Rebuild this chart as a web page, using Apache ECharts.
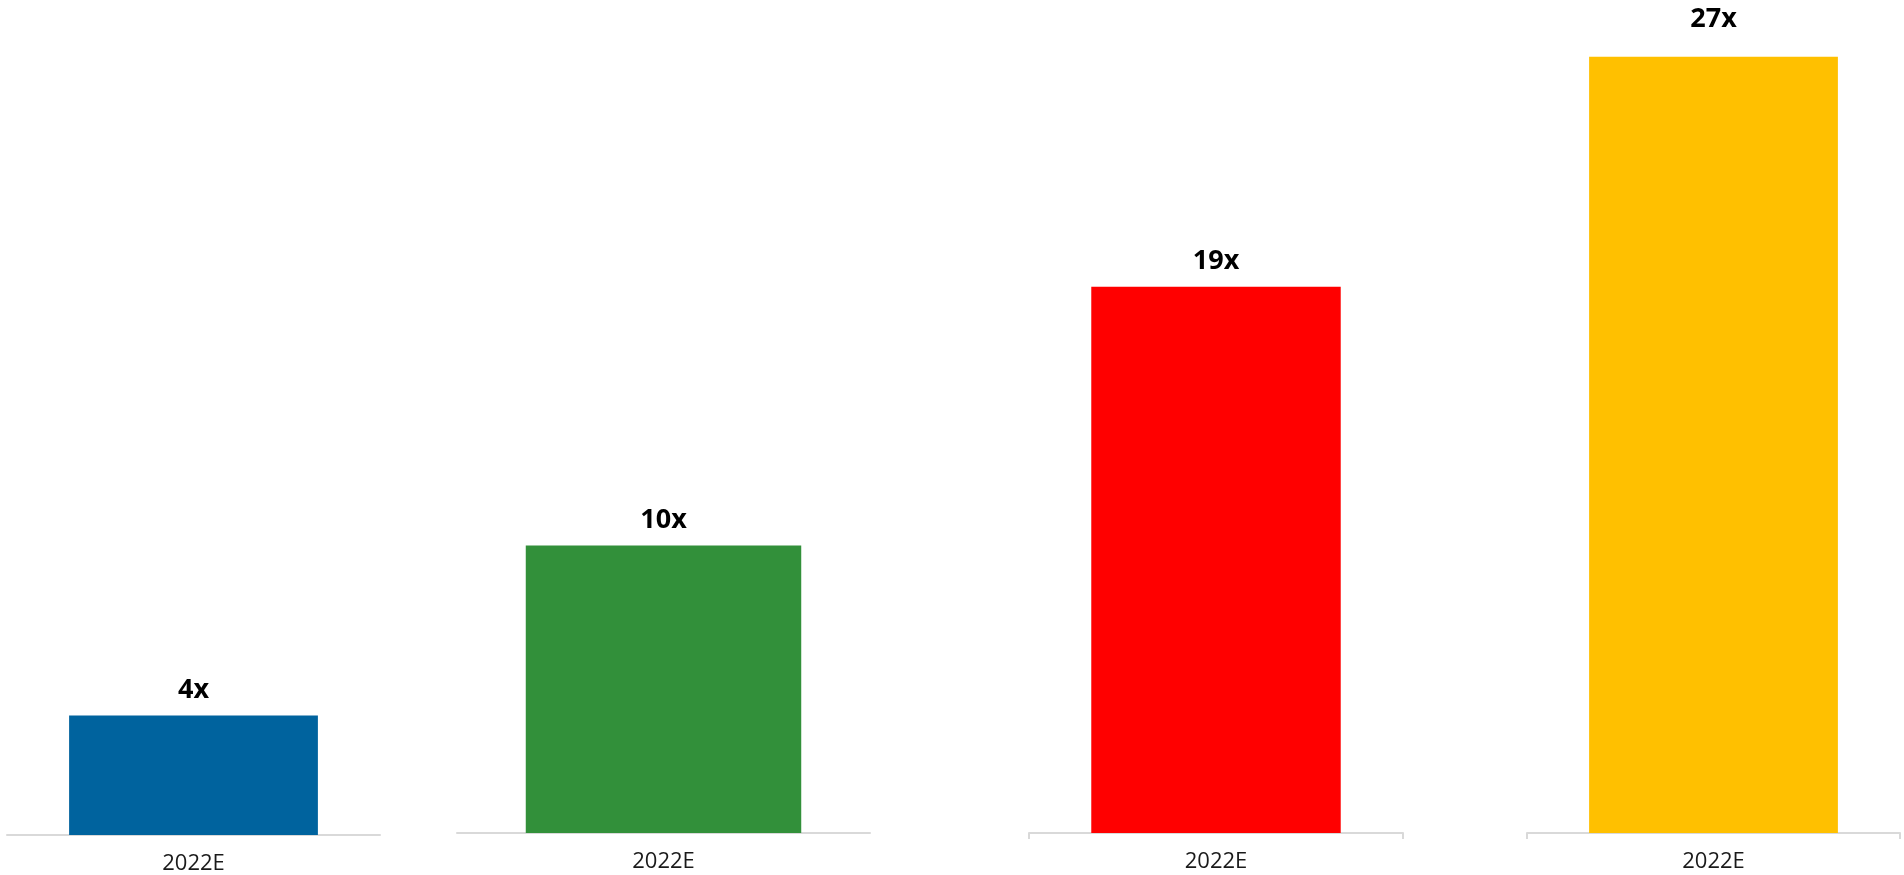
<!DOCTYPE html>
<html>
<head>
<meta charset="utf-8">
<style>
  html, body { margin: 0; padding: 0; background: #ffffff; }
  #chart { width: 1904px; height: 875px; }
</style>
<script src="https://cdn.jsdelivr.net/npm/echarts@6/dist/echarts.min.js"></script>
</head>
<body>
<div id="chart"></div>
<script>
// Four single-bar panels, each with its own category axis
const categories = ['2022E'];
const multiples = [4, 10, 19, 27];
const barColors = ['#00639e', '#32903a', '#ff0000', '#ffc000'];
const axisMax = [27, 28, 28, 28];
const showEndTicks = [false, false, true, true];

// panel boxes in pixels: left, width, top, height
const panels = [
  { left: 7,    width: 373, top: 28, height: 808 },
  { left: 457,  width: 413, top: 28, height: 805 },
  { left: 1029, width: 374, top: 28, height: 805 },
  { left: 1527, width: 373, top: 28, height: 805 }
];
const labelDistance = [12, 12, 12, 24];

const FONT = "'Open Sans', 'Noto Sans', sans-serif";

const chart = echarts.init(document.getElementById('chart'), null, { renderer: 'canvas' });

const grid = panels.map(p => ({ left: p.left, width: p.width, top: p.top, height: p.height, containLabel: false }));

const xAxis = panels.map((p, i) => ({
  type: 'category',
  gridIndex: i,
  data: categories,
  axisLine: { show: true, lineStyle: { color: '#d9d9d9', width: 2 } },
  axisTick: { show: showEndTicks[i], length: 6, alignWithLabel: false, lineStyle: { color: '#d9d9d9', width: 2 } },
  axisLabel: { color: '#1a1a1a', fontFamily: FONT, fontSize: 22, margin: 18 }
}));

const yAxis = panels.map((p, i) => ({
  type: 'value',
  gridIndex: i,
  min: 0,
  max: axisMax[i],
  show: false,
  splitLine: { show: false }
}));

const series = multiples.map((v, i) => ({
  type: 'bar',
  xAxisIndex: i,
  yAxisIndex: i,
  data: [v],
  barWidth: '66.7%',
  itemStyle: { color: barColors[i] },
  label: {
    show: true,
    position: 'top',
    distance: labelDistance[i],
    formatter: '{c}x',
    color: '#000000',
    fontFamily: FONT,
    fontWeight: 'bold',
    fontSize: 27
  }
}));

chart.setOption({
  animation: false,
  backgroundColor: '#ffffff',
  grid: grid,
  xAxis: xAxis,
  yAxis: yAxis,
  series: series
});
</script>
</body>
</html>
